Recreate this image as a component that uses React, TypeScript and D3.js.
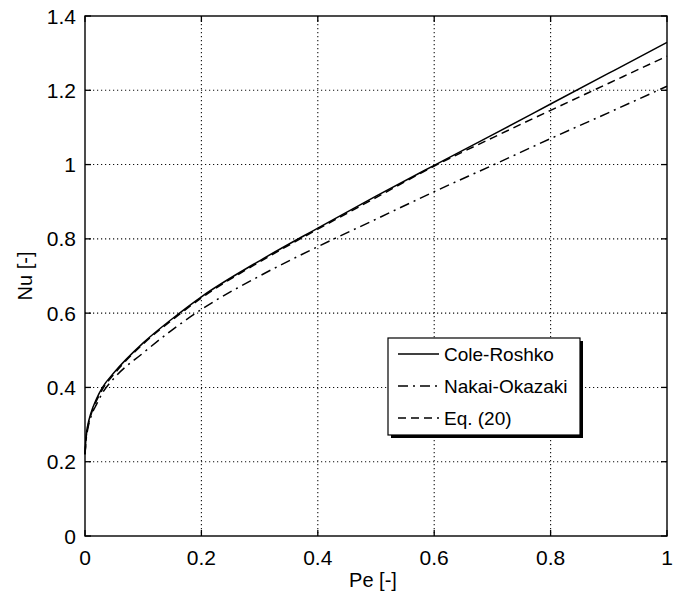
import React from 'react';
import * as d3 from 'd3';

const pe = [0, 0.002, 0.005, 0.01, 0.02, 0.03, 0.05, 0.1, 0.15, 0.2, 0.3, 0.4, 0.5, 0.6, 0.7, 0.8, 0.9, 1.0];
const coleRoshko = [0.22, 0.27, 0.3, 0.33, 0.37, 0.4, 0.44, 0.52, 0.585, 0.644, 0.741, 0.829, 0.915, 0.998, 1.08, 1.163, 1.246, 1.329];
const nakaiOkazaki = [0.22, 0.26, 0.29, 0.32, 0.355, 0.385, 0.425, 0.493, 0.555, 0.61, 0.7, 0.779, 0.853, 0.927, 0.998, 1.07, 1.14, 1.211];
const eq20 = [0.22, 0.265, 0.295, 0.325, 0.365, 0.395, 0.436, 0.517, 0.582, 0.641, 0.738, 0.826, 0.911, 0.996, 1.072, 1.146, 1.219, 1.292];

const xTicks = [0, 0.2, 0.4, 0.6, 0.8, 1];
const yTicks = [0, 0.2, 0.4, 0.6, 0.8, 1, 1.2, 1.4];

const series = [
  { name: 'Cole-Roshko', values: coleRoshko, dash: 'none' },
  { name: 'Nakai-Okazaki', values: nakaiOkazaki, dash: '10,5,2,5' },
  { name: 'Eq. (20)', values: eq20, dash: '8,5' },
];

const W = 680;
const H = 593;
const left = 85, right = 667, top = 16, bottom = 536;
const font = 'Arial, "Liberation Sans", sans-serif';

const App = () => {
  const x = d3.scaleLinear().domain([0, 1]).range([left, right]);
  const y = d3.scaleLinear().domain([0, 1.4]).range([bottom, top]);

  const line = d3
    .line<number>()
    .x((_, i) => x(pe[i]))
    .y(d => y(d))
    .curve(d3.curveMonotoneX);

  const legend = { x: 388, y: 338, w: 192, h: 97 };

  return (
    <svg width={W} height={H} style={{ position: 'absolute', left: 0, top: 0, background: '#fff' }}>
      <rect width={W} height={H} fill="#fff" />

      {/* grid */}
      {xTicks.slice(1, -1).map(t => (
        <line key={'gx' + t} x1={x(t)} x2={x(t)} y1={top} y2={bottom}
          stroke="#111" strokeWidth={1.1} strokeDasharray="1.2,2.8" />
      ))}
      {yTicks.slice(1, -1).map(t => (
        <line key={'gy' + t} x1={left} x2={right} y1={y(t)} y2={y(t)}
          stroke="#111" strokeWidth={1.1} strokeDasharray="1.2,2.8" />
      ))}

      {/* curves */}
      {series.map(s => (
        <path key={s.name} d={line(s.values) || ''} fill="none" stroke="#000"
          strokeWidth={1.5} strokeDasharray={s.dash} />
      ))}

      {/* ticks, inward on all sides */}
      {xTicks.map(t => (
        <g key={'tx' + t}>
          <line x1={x(t)} x2={x(t)} y1={bottom} y2={bottom - 6} stroke="#000" strokeWidth={1.3} />
          <line x1={x(t)} x2={x(t)} y1={top} y2={top + 6} stroke="#000" strokeWidth={1.3} />
          <text x={x(t)} y={565} textAnchor="middle" fontFamily={font} fontSize={21}>{t}</text>
        </g>
      ))}
      {yTicks.map(t => (
        <g key={'ty' + t}>
          <line x1={left} x2={left + 6} y1={y(t)} y2={y(t)} stroke="#000" strokeWidth={1.3} />
          <line x1={right} x2={right - 6} y1={y(t)} y2={y(t)} stroke="#000" strokeWidth={1.3} />
          <text x={76} y={y(t) + 7.5} textAnchor="end" fontFamily={font} fontSize={21}>{t}</text>
        </g>
      ))}

      {/* frame */}
      <rect x={left} y={top} width={right - left} height={bottom - top} fill="none" stroke="#000" strokeWidth={1.4} />

      {/* axis labels */}
      <text x={373} y={587} textAnchor="middle" fontFamily={font} fontSize={20}>Pe [-]</text>
      <text transform={`translate(32,276) rotate(-90)`} textAnchor="middle" fontFamily={font} fontSize={20}>Nu [-]</text>

      {/* legend */}
      <rect x={legend.x + 3} y={legend.y + 3} width={legend.w} height={legend.h} fill="#000" />
      <rect x={legend.x} y={legend.y} width={legend.w} height={legend.h} fill="#fff" stroke="#000" strokeWidth={1.2} />
      {series.map((s, i) => {
        const ly = legend.y + 16 + i * 32;
        return (
          <g key={'lg' + s.name}>
            <line x1={legend.x + 10} x2={legend.x + 51} y1={ly} y2={ly} stroke="#000" strokeWidth={1.4}
              strokeDasharray={s.dash} />
            <text x={legend.x + 56} y={ly + 7} fontFamily={font} fontSize={19}>{s.name}</text>
          </g>
        );
      })}
    </svg>
  );
};

export default App;
